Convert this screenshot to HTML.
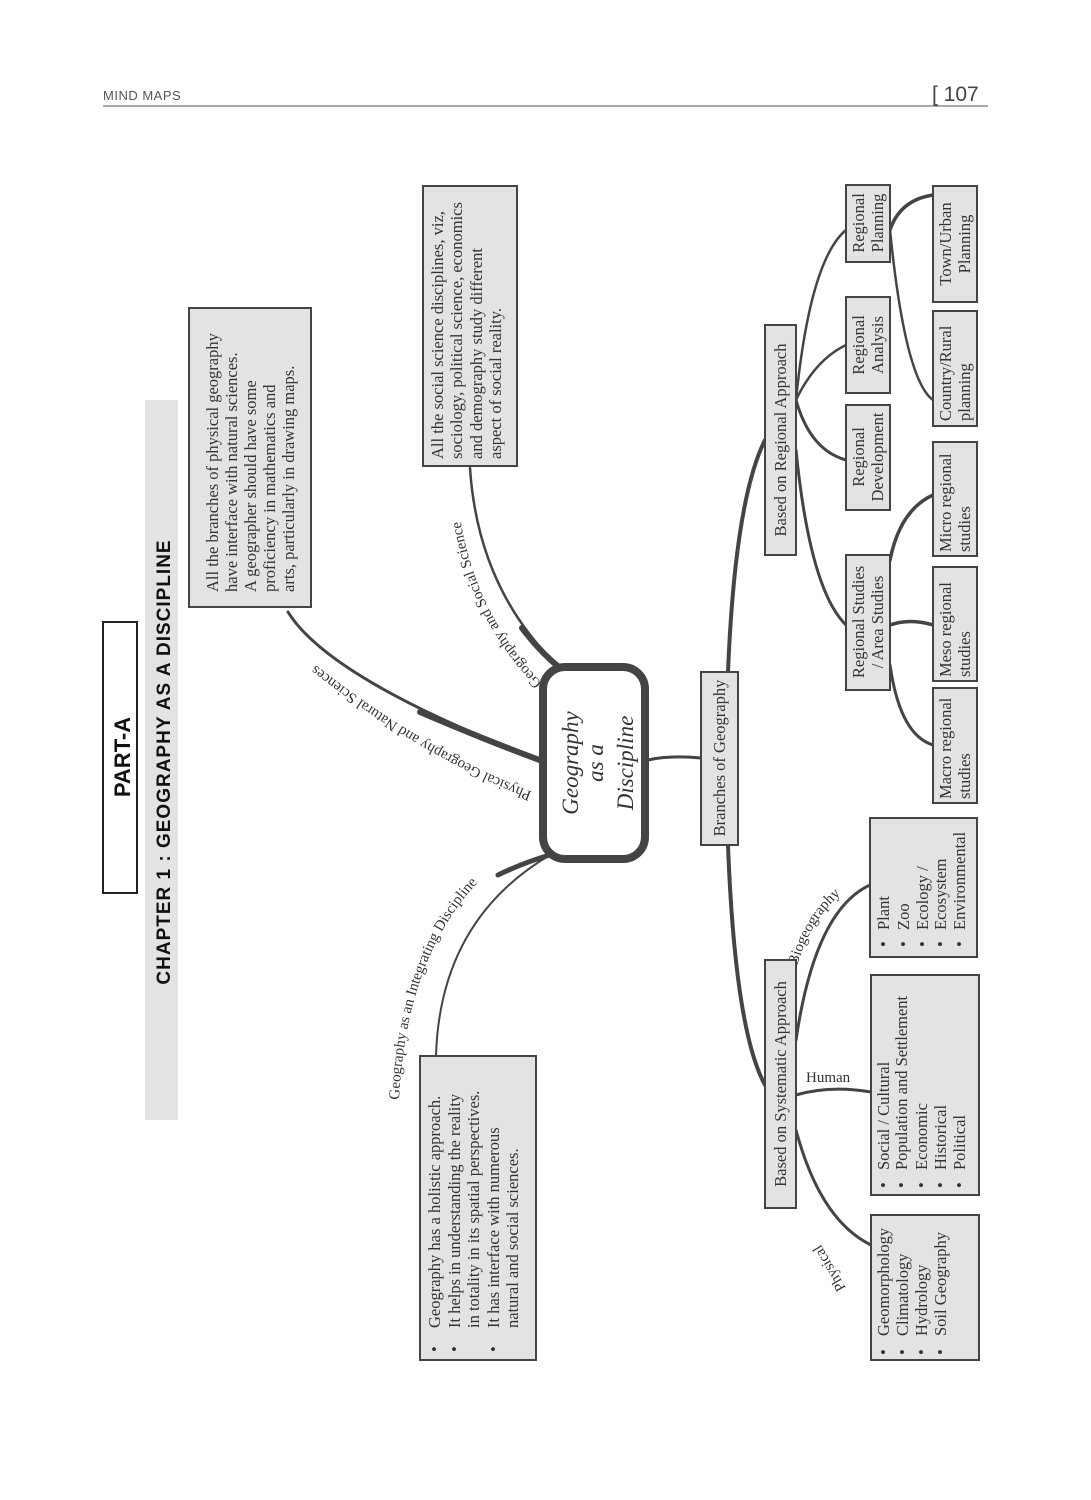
<!DOCTYPE html>
<html><head><meta charset="utf-8"><style>
html,body{margin:0;padding:0;background:#fff;}
svg{display:block;}
text{font-family:"Liberation Serif",serif;fill:#333;}
</style></head><body>
<svg width="1091" height="1500" viewBox="0 0 1091 1500" xmlns="http://www.w3.org/2000/svg">
<defs>
<path id="lp1" d="M532 792 Q400 740 276 632"/>
<path id="lp2" d="M542 683 Q462 600 456 478"/>
<path id="lp3" d="M399 1100 Q408 915 528 842"/>
<path id="lp4" d="M797 966 Q815 905 862 880"/>
</defs>
<text x="103" y="100" style="font-family:'Liberation Sans',sans-serif;font-size:13px;fill:#555;letter-spacing:0.5px">MIND MAPS</text>
<text x="932" y="101" style="font-family:'Liberation Sans',sans-serif;font-size:21px;fill:#444">[ 107</text>
<line x1="103" y1="106" x2="988" y2="106" stroke="#555" stroke-width="1"/>

<rect x="145" y="400" width="33" height="720" fill="#e3e3e3"/>
<text transform="translate(170,762) rotate(-90)" text-anchor="middle" style="font-family:'Liberation Sans',sans-serif;font-weight:bold;font-size:19px;fill:#111;letter-spacing:1px">CHAPTER 1 : GEOGRAPHY AS A DISCIPLINE</text>
<rect x="103" y="622" width="34" height="271" fill="#fff" stroke="#222" stroke-width="2"/>
<text transform="translate(130,757) rotate(-90)" text-anchor="middle" style="font-family:'Liberation Sans',sans-serif;font-weight:bold;font-size:22px;fill:#111">PART-A</text>

<g stroke="#444" fill="none" stroke-linecap="round">
<path d="M288 612 Q330 680 545 762" stroke-width="3"/>
<path d="M420 712 Q490 742 545 762" stroke-width="6"/>
<path d="M470 468 Q478 590 560 668" stroke-width="2.5"/>
<path d="M522 628 Q540 652 560 668" stroke-width="6"/>
<path d="M436 1056 Q440 920 550 855" stroke-width="2"/>
<path d="M498 875 Q525 862 550 855" stroke-width="5"/>
<path d="M648 760 Q670 755 701 758" stroke-width="3"/>
<path d="M728 672 Q735 500 765 440" stroke-width="4"/>
<path d="M728 845 Q735 1030 765 1085" stroke-width="4"/>
<path d="M796 400 Q810 260 846 230" stroke-width="2.5"/>
<path d="M796 400 Q815 360 846 345" stroke-width="2.5"/>
<path d="M796 400 Q810 450 846 460" stroke-width="3"/>
<path d="M796 450 Q810 590 846 625" stroke-width="3"/>
<path d="M890 560 Q900 510 933 495" stroke-width="3.5"/>
<path d="M890 625 Q910 618 933 625" stroke-width="3.5"/>
<path d="M890 665 Q900 735 933 745" stroke-width="3"/>
<path d="M890 230 Q900 200 933 195" stroke-width="3.5"/>
<path d="M890 230 Q905 380 933 400" stroke-width="2.5"/>
<path d="M796 1040 Q815 910 870 885" stroke-width="3"/>
<path d="M796 1095 Q830 1085 871 1092" stroke-width="3"/>
<path d="M796 1130 Q820 1220 871 1245" stroke-width="3"/>
</g>

<rect x="543" y="667" width="102" height="192" rx="22" fill="#fff" stroke="#444" stroke-width="8"/>
<g style="font-style:italic;font-size:23px;fill:#111">
<text transform="translate(578,763) rotate(-90)" text-anchor="middle">Geography</text>
<text transform="translate(603,763) rotate(-90)" text-anchor="middle">as a</text>
<text transform="translate(633,763) rotate(-90)" text-anchor="middle">Discipline</text>
</g>

<g style="font-size:15px;fill:#111">
<text><textPath href="#lp1">Physical Geography and Natural Sciences</textPath></text>
<text><textPath href="#lp2">Geography and Social Science</textPath></text>
<text><textPath href="#lp3">Geography as an Integrating Discipline</textPath></text>
<text><textPath href="#lp4">Biogeography</textPath></text>
<text x="806" y="1082">Human</text>
<text transform="translate(846,1288) rotate(-120)">Physical</text>
</g>

<g fill="#e3e3e3" stroke="#444" stroke-width="2">
<rect x="189" y="308" width="122" height="299"/>
<rect x="423" y="186" width="94" height="280"/>
<rect x="420" y="1056" width="116" height="304"/>
<rect x="701" y="672" width="37" height="173"/>
<rect x="765" y="325" width="31" height="230"/>
<rect x="765" y="960" width="31" height="248"/>
<rect x="846" y="555" width="44" height="135"/>
<rect x="846" y="405" width="44" height="105"/>
<rect x="846" y="297" width="44" height="96"/>
<rect x="846" y="185" width="44" height="77"/>
<rect x="933" y="186" width="44" height="116"/>
<rect x="933" y="311" width="44" height="115"/>
<rect x="933" y="442" width="44" height="114"/>
<rect x="933" y="567" width="44" height="114"/>
<rect x="933" y="688" width="44" height="115"/>
<rect x="870" y="818" width="107" height="139"/>
<rect x="871" y="975" width="108" height="220"/>
<rect x="871" y="1215" width="108" height="145"/>
</g>

<g style="font-size:16.5px">
<text transform="translate(218,592) rotate(-90)">All the branches of physical geography</text>
<text transform="translate(237,592) rotate(-90)">have interface with natural sciences.</text>
<text transform="translate(256,592) rotate(-90)">A geographer should have some</text>
<text transform="translate(275,592) rotate(-90)">proficiency in mathematics and</text>
<text transform="translate(294,592) rotate(-90)">arts, particularly in drawing maps.</text>
<text transform="translate(443,459) rotate(-90)">All the social science disciplines, viz,</text>
<text transform="translate(462,459) rotate(-90)">sociology, political science, economics</text>
<text transform="translate(482,459) rotate(-90)">and demography study different</text>
<text transform="translate(501,459) rotate(-90)">aspect of social reality.</text>
<text transform="translate(440,1352) rotate(-90)">•</text>
<text transform="translate(460,1352) rotate(-90)">•</text>
<text transform="translate(499,1352) rotate(-90)">•</text>
<text transform="translate(440,1328) rotate(-90)">Geography has a holistic approach.</text>
<text transform="translate(460,1328) rotate(-90)">It helps in understanding the reality</text>
<text transform="translate(479,1328) rotate(-90)">in totality in its spatial perspectives.</text>
<text transform="translate(499,1328) rotate(-90)">It has interface with numerous</text>
<text transform="translate(518,1328) rotate(-90)">natural and social sciences.</text>
<text transform="translate(725,758) rotate(-90)" text-anchor="middle">Branches of Geography</text>
<text transform="translate(786,440) rotate(-90)" text-anchor="middle">Based on Regional Approach</text>
<text transform="translate(786,1084) rotate(-90)" text-anchor="middle">Based on Systematic Approach</text>
<text transform="translate(864,622) rotate(-90)" text-anchor="middle">Regional Studies</text>
<text transform="translate(883,622) rotate(-90)" text-anchor="middle">/ Area Studies</text>
<text transform="translate(864,457) rotate(-90)" text-anchor="middle">Regional</text>
<text transform="translate(883,457) rotate(-90)" text-anchor="middle">Development</text>
<text transform="translate(864,345) rotate(-90)" text-anchor="middle">Regional</text>
<text transform="translate(883,345) rotate(-90)" text-anchor="middle">Analysis</text>
<text transform="translate(864,223) rotate(-90)" text-anchor="middle">Regional</text>
<text transform="translate(883,223) rotate(-90)" text-anchor="middle">Planning</text>
<text transform="translate(951,244) rotate(-90)" text-anchor="middle">Town/Urban</text>
<text transform="translate(970,244) rotate(-90)" text-anchor="middle">Planning</text>
<text transform="translate(951,421) rotate(-90)">Country/Rural</text>
<text transform="translate(970,421) rotate(-90)">planning</text>
<text transform="translate(951,552) rotate(-90)">Micro regional</text>
<text transform="translate(970,552) rotate(-90)">studies</text>
<text transform="translate(951,677) rotate(-90)">Meso regional</text>
<text transform="translate(970,677) rotate(-90)">studies</text>
<text transform="translate(951,799) rotate(-90)">Macro regional</text>
<text transform="translate(970,799) rotate(-90)">studies</text>
<text transform="translate(889,947) rotate(-90)">•</text>
<text transform="translate(909,947) rotate(-90)">•</text>
<text transform="translate(928,947) rotate(-90)">•</text>
<text transform="translate(946,947) rotate(-90)">•</text>
<text transform="translate(965,947) rotate(-90)">•</text>
<text transform="translate(889,930) rotate(-90)">Plant</text>
<text transform="translate(909,930) rotate(-90)">Zoo</text>
<text transform="translate(928,930) rotate(-90)">Ecology /</text>
<text transform="translate(946,930) rotate(-90)">Ecosystem</text>
<text transform="translate(965,930) rotate(-90)">Environmental</text>
<text transform="translate(889,1188) rotate(-90)">•</text>
<text transform="translate(907,1188) rotate(-90)">•</text>
<text transform="translate(927,1188) rotate(-90)">•</text>
<text transform="translate(946,1188) rotate(-90)">•</text>
<text transform="translate(965,1188) rotate(-90)">•</text>
<text transform="translate(889,1170) rotate(-90)">Social / Cultural</text>
<text transform="translate(907,1170) rotate(-90)">Population and Settlement</text>
<text transform="translate(927,1170) rotate(-90)">Economic</text>
<text transform="translate(946,1170) rotate(-90)">Historical</text>
<text transform="translate(965,1170) rotate(-90)">Political</text>
<text transform="translate(889,1355) rotate(-90)">•</text>
<text transform="translate(908,1355) rotate(-90)">•</text>
<text transform="translate(927,1355) rotate(-90)">•</text>
<text transform="translate(946,1355) rotate(-90)">•</text>
<text transform="translate(889,1336) rotate(-90)">Geomorphology</text>
<text transform="translate(908,1336) rotate(-90)">Climatology</text>
<text transform="translate(927,1336) rotate(-90)">Hydrology</text>
<text transform="translate(946,1336) rotate(-90)">Soil Geography</text>
</g>
</svg>
</body></html>
